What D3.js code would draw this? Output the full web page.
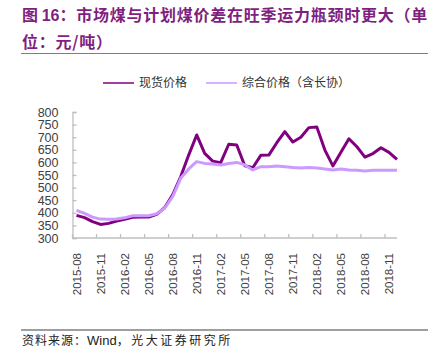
<!DOCTYPE html>
<html>
<head>
<meta charset="utf-8">
<script src="https://cdn.jsdelivr.net/npm/d3@7"></script>
<style>
  body { margin: 0; background: #fff; }
  svg { display: block; }
</style>
</head>
<body>
<div id="chart"></div>
<script>
// monthly categories, 2015-08 .. 2018-12
const months = [
    "2015-08", "2015-09", "2015-10", "2015-11", "2015-12",
    "2016-01", "2016-02", "2016-03", "2016-04", "2016-05", "2016-06",
    "2016-07", "2016-08", "2016-09", "2016-10", "2016-11", "2016-12",
    "2017-01", "2017-02", "2017-03", "2017-04", "2017-05", "2017-06",
    "2017-07", "2017-08", "2017-09", "2017-10", "2017-11", "2017-12",
    "2018-01", "2018-02", "2018-03", "2018-04", "2018-05", "2018-06",
    "2018-07", "2018-08", "2018-09", "2018-10", "2018-11", "2018-12"
];
const tickLabels = ["2015-08", "2015-11", "2016-02", "2016-05", "2016-08", "2016-11", "2017-02",
    "2017-05", "2017-08", "2017-11", "2018-02", "2018-05", "2018-08", "2018-11"];
const yTicks = [300, 350, 400, 450, 500, 550, 600, 650, 700, 750, 800];

const spotPrice = [390, 381, 365, 354, 358, 367, 374, 382, 383, 383, 394, 420, 471, 543, 629, 709, 636,
    605, 599, 672, 669, 587, 579, 628, 629, 678, 722, 681, 700, 738, 740, 649, 586, 640, 694, 662,
    621, 635, 658, 640, 612];
const mixedPrice = [410, 398, 383, 375, 374, 375, 380, 388, 388, 388, 396, 418, 464, 537, 574, 603, 596,
    594, 590, 596, 600, 590, 570, 583, 583, 586, 583, 580, 578, 580, 578, 574, 570, 574, 570, 569,
    566, 569, 569, 569, 569];

const seriesNames = ["现货价格", "综合价格（含长协）"];

const width = 437, height = 362;
const darkColor = "#800080";
const lightColor = "#cc99ff";
const axisColor = "#bfbfbf";
const cjk = "'Noto Sans CJK SC', sans-serif";
const latin = "'Liberation Sans', Arial, sans-serif";

let svg = d3.select("#chart").append("svg")
    .attr("width", width)
    .attr("height", height)
    .style("background", "#fff");

// title
const title = svg.append("text")
    .attr("x", 22)
    .attr("fill", "#7f1f80")
    .style("font-family", cjk)
    .style("font-weight", "bold")
    .style("font-size", "16px");
title.append("tspan").attr("x", 22).attr("y", 21)
    .text("图 ").append("tspan").style("font-family", latin).text("16");
title.append("tspan").style("letter-spacing", "0.75px")
    .text("：市场煤与计划煤价差在旺季运力瓶颈时更大（单");
title.append("tspan").attr("x", 22).attr("y", 48)
    .style("letter-spacing", "0.75px").text("位：元/吨）");

svg.append("line")
    .attr("x1", 21).attr("x2", 428).attr("y1", 53.5).attr("y2", 53.5)
    .attr("stroke", "#7f7f7f").attr("stroke-width", 1.2);

// scales
let x = d3.scaleBand()
    .domain(months)
    .range([72.5, 401])
    .paddingInner(0).paddingOuter(0);
const half = x.bandwidth() / 2;

let y = d3.scaleLinear()
    .domain([300, 800])
    .range([238, 112]);

// y axis
let yAxis = d3.axisRight(y)
    .tickValues(yTicks)
    .tickSize(4)
    .tickFormat(d3.format("d"));
const gy = svg.append("g")
    .attr("transform", "translate(72.5,0)")
    .call(yAxis);
gy.select(".domain").attr("stroke", axisColor).attr("stroke-width", 1.3);
gy.selectAll(".tick line").attr("stroke", axisColor).attr("stroke-width", 1.3);
gy.selectAll(".tick text")
    .attr("x", -14)
    .attr("text-anchor", "end")
    .attr("fill", "#404040")
    .style("font-family", latin)
    .style("font-size", "12.5px");

// x axis
const xEnd = x(months[months.length - 1]) + half;
svg.append("line")
    .attr("x1", 72.5).attr("x2", xEnd)
    .attr("y1", y(300)).attr("y2", y(300))
    .attr("stroke", axisColor).attr("stroke-width", 1.3);

svg.selectAll(".xtick")
    .data(tickLabels)
    .enter()
    .append("line")
    .attr("class", "xtick")
    .attr("x1", d => x(d)).attr("x2", d => x(d))
    .attr("y1", y(300)).attr("y2", y(300) - 4)
    .attr("stroke", axisColor).attr("stroke-width", 1.3);

svg.selectAll(".xlabel")
    .data(tickLabels)
    .enter()
    .append("text")
    .attr("class", "xlabel")
    .attr("transform", d => "translate(" + (x(d) + half) + ",253) rotate(-90)")
    .attr("dy", "0.35em")
    .attr("text-anchor", "end")
    .attr("fill", "#404040")
    .style("font-family", latin)
    .style("font-size", "11.5px")
    .text(d => d);

// lines
const line = d3.line()
    .x((d, i) => x(months[i]) + half)
    .y(d => y(d));

svg.append("path")
    .datum(spotPrice)
    .attr("d", line)
    .attr("fill", "none")
    .attr("stroke", darkColor)
    .attr("stroke-width", 3)
    .attr("stroke-linejoin", "round");

svg.append("path")
    .datum(mixedPrice)
    .attr("d", line)
    .attr("fill", "none")
    .attr("stroke", lightColor)
    .attr("stroke-width", 3)
    .attr("stroke-linejoin", "round");

// legend
const legendItems = [
    {name: seriesNames[0], color: darkColor, x: 103},
    {name: seriesNames[1], color: lightColor, x: 206}
];
const lg = svg.selectAll(".legend")
    .data(legendItems)
    .enter()
    .append("g")
    .attr("class", "legend")
    .attr("transform", d => "translate(" + d.x + ",83)");
lg.append("line")
    .attr("x1", 0).attr("x2", 31)
    .attr("stroke", d => d.color)
    .attr("stroke-width", 1.5);
lg.append("text")
    .attr("x", 36)
    .attr("dy", "0.35em")
    .attr("fill", "#333")
    .style("font-family", cjk)
    .style("font-size", "12px")
    .text(d => d.name);

// source
svg.append("line")
    .attr("x1", 21).attr("x2", 428).attr("y1", 330).attr("y2", 330)
    .attr("stroke", "#404040").attr("stroke-width", 1.2);

const src = svg.append("text")
    .attr("x", 22).attr("y", 345)
    .attr("fill", "#222")
    .style("font-family", cjk)
    .style("font-size", "12px");
src.append("tspan").style("letter-spacing", "1px").text("资料来源：");
src.append("tspan").style("font-family", latin).style("font-size", "13px").text("Wind");
src.append("tspan").style("letter-spacing", "2.5px").text("，光大证券研究所");
</script>
</body>
</html>
